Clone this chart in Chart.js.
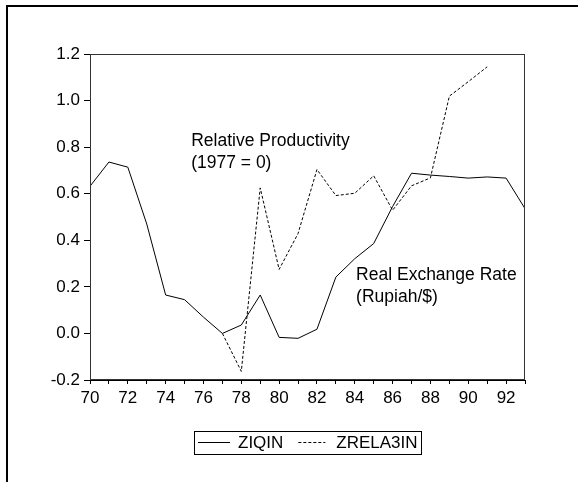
<!DOCTYPE html>
<html>
<head>
<meta charset="utf-8">
<script src="https://cdn.jsdelivr.net/npm/chart.js@4.4.0/dist/chart.umd.min.js"></script>
<style>
html,body{margin:0;padding:0;background:#fff;overflow:hidden}
canvas{display:block}
</style>
</head>
<body>
<canvas id="c" width="578" height="482"></canvas>
<script>
// ---- data ----
const years = [70,71,72,73,74,75,76,77,78,79,80,81,82,83,84,85,86,87,88,89,90,91,92,93];
const ziqin = [0.632,0.736,0.714,0.470,0.165,0.145,0.070,0.000,0.036,0.165,-0.017,-0.021,0.018,0.242,0.321,0.386,0.545,0.688,0.680,0.674,0.667,0.672,0.667,0.536];
const zrela3in = [null,null,null,null,null,null,null,0.000,-0.163,0.625,0.275,0.429,0.704,0.592,0.602,0.677,0.529,0.634,0.668,1.019,1.081,1.145,null,null];
const seriesNames = ['ZIQIN','ZRELA3IN'];
const yTickValues = [-0.2,0.0,0.2,0.4,0.6,0.8,1.0,1.2];
const xTickLabels = [70,72,74,76,78,80,82,84,86,88,90,92];
const noteProductivity = ['Relative Productivity','(1977 = 0)'];
const noteExchange = ['Real Exchange Rate','(Rupiah/$)'];

const FONT = '"Liberation Sans", Arial, Helvetica, sans-serif';
const toPts = arr => years.map((y,i)=>({x:y,y:arr[i]})).filter(p=>p.y!==null);

const decor = {
  id:'decor',
  beforeDraw(chart){
    const c = chart.ctx;
    c.save();
    c.fillStyle='#fff';
    c.fillRect(0,0,chart.width,chart.height);
    // outer frame (top + left)
    c.fillStyle='#000';
    c.fillRect(6,5,chart.width-6,2);
    c.fillRect(6,5,2,chart.height-5);
    c.restore();
  },
  afterDraw(chart){
    const c = chart.ctx, a = chart.chartArea;
    const xs = chart.scales.x, ys = chart.scales.y;
    c.save();
    // plot box
    c.strokeStyle='#333'; c.lineWidth=1;
    c.strokeRect(Math.round(a.left)+0.5, Math.round(a.top)+0.5, Math.round(a.right-a.left)-1, Math.round(a.bottom-a.top)-1);
    // annotations
    c.fillStyle='#000';
    c.font = '17.5px '+FONT;
    c.textBaseline='alphabetic'; c.textAlign='left';
    const drawNote = (lines, xv, yv) => {
      const px = xs.getPixelForValue(xv), py = ys.getPixelForValue(yv);
      lines.forEach((t,i)=>c.fillText(t, px, py + i*22));
    };
    drawNote(noteProductivity, 75.35, 0.804);
    drawNote(noteExchange, 84.07, 0.228);
    // legend
    c.font = '17px '+FONT;
    const ds = chart.data.datasets;
    const cx = (a.left+a.right)/2;
    const sampleLens = [32,27];
    const w0 = c.measureText(ds[0].label).width, w1 = c.measureText(ds[1].label).width;
    const total = 4 + sampleLens[0] + 8 + w0 + 15 + sampleLens[1] + 11 + w1 + 3;
    const bx = Math.round(cx - total/2), by = 431, bh = 23;
    c.strokeStyle='#000'; c.lineWidth=1;
    c.setLineDash([]);
    c.strokeRect(bx+0.5, by+0.5, Math.round(total), bh);
    const ly = by + 11.5;
    let x = bx + 4;
    ds.forEach((d,i)=>{
      c.setLineDash(d.borderDash||[]);
      c.strokeStyle = d.borderColor; c.lineWidth=1;
      c.beginPath(); c.moveTo(x, ly); c.lineTo(x+sampleLens[i], ly); c.stroke();
      x += sampleLens[i] + (i===0?8:11);
      c.setLineDash([]);
      c.fillStyle='#000'; c.textBaseline='middle';
      c.fillText(d.label, x, ly+1);
      x += (i===0?w0:w1) + 15;
    });
    c.restore();
  }
};

new Chart(document.getElementById('c'), {
  type:'line',
  data:{
    datasets:[
      {label:seriesNames[0], data:toPts(ziqin), borderColor:'#000', borderWidth:1, pointRadius:0, tension:0, fill:false},
      {label:seriesNames[1], data:toPts(zrela3in), borderColor:'#000', borderWidth:1, borderDash:[3,2], pointRadius:0, tension:0, fill:false}
    ]
  },
  options:{
    responsive:false, animation:false, devicePixelRatio:1,
    layout:{padding:{left:0, top:54, right:53, bottom:0}},
    plugins:{legend:{display:false}, tooltip:{enabled:false}},
    scales:{
      x:{
        type:'linear', min:70, max:93,
        afterFit(s){ s.height = 102; },
        afterBuildTicks(s){ s.ticks = years.map(v=>({value:v})); },
        grid:{display:true, drawOnChartArea:false, drawTicks:true, tickLength:4, tickColor:'#000', color:'#000'},
        border:{display:true, color:'#000', width:1},
        ticks:{autoSkip:false, maxRotation:0, padding:4, color:'#000', font:{family:FONT, size:17},
          callback:(v)=> xTickLabels.includes(v) ? String(v) : ''}
      },
      y:{
        min:-0.2, max:1.2,
        afterFit(s){ s.width = 90; },
        afterBuildTicks(s){ s.ticks = yTickValues.map(v=>({value:v})); },
        grid:{display:true, drawOnChartArea:false, drawTicks:true, tickLength:6, tickColor:'#000', color:'#000'},
        border:{display:true, color:'#000', width:1},
        ticks:{padding:4, color:'#000', font:{family:FONT, size:17},
          callback:(v)=> v.toFixed(1)}
      }
    }
  },
  plugins:[decor]
});
</script>
</body>
</html>
